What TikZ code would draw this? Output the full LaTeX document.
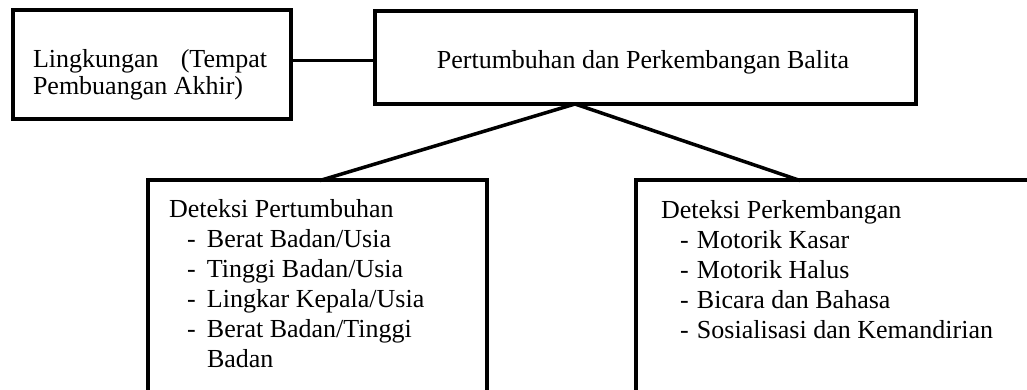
\documentclass[tikz,border=0pt]{standalone}
\usepackage{fontspec}
\setmainfont{Liberation Serif}
\newcommand{\itemL}[1]{\makebox[38pt][l]{\hspace*{18pt}-}#1}
\newcommand{\itemR}[1]{\makebox[36pt][l]{\hspace*{19pt}-}#1}
\begin{document}
\begin{tikzpicture}[x=1pt,y=-1pt,
  box/.style={draw, line width=4pt, rectangle, inner sep=0pt, outer sep=0pt},
  link/.style={line width=3.5pt},
  txt/.style={inner sep=0pt, outer sep=0pt, font=\fontsize{26}{30}\selectfont}]
\useasboundingbox (0,0) rectangle (1027,390);
\clip (0,0) rectangle (1027,390);
% boxes
\node[box, minimum width=278.5pt, minimum height=109pt] (env) at (151.75,65) {};
\node[box, minimum width=540.5pt, minimum height=93pt] (main) at (645.25,57.5) {};
\node[box, minimum width=339.5pt, minimum height=229.5pt] (grow) at (317.25,295.25) {};
\node[box, minimum width=414pt, minimum height=229.5pt] (dev) at (843,295.25) {};
% texts
\node[txt, anchor=base west, font=\fontsize{26}{27.5}\selectfont] (envt) at (33,67.5)
  {\parbox[t]{240pt}{\makebox[234pt][s]{Lingkungan\hfill(Tempat}\\Pembuangan Akhir)}};
\node[txt, anchor=base] (maint) at (643,68.3) {Pertumbuhan dan Perkembangan Balita};
\node[txt, anchor=base west] (growt) at (169,217)
  {\parbox[t]{310pt}{Deteksi Pertumbuhan\\
   \itemL{Berat Badan/Usia}\\
   \itemL{Tinggi Badan/Usia}\\
   \itemL{Lingkar Kepala/Usia}\\
   \itemL{Berat Badan/Tinggi}\\
   \hspace*{38pt}Badan}};
\node[txt, anchor=base west] (devt) at (661,218)
  {\parbox[t]{360pt}{Deteksi Perkembangan\\
   \itemR{Motorik Kasar}\\
   \itemR{Motorik Halus}\\
   \itemR{Bicara dan Bahasa}\\
   \itemR{Sosialisasi dan Kemandirian}}};
% connectors
\coordinate (ylink) at (0,60.5);
\coordinate (apex) at (575,104);
\coordinate (growtop) at (320,180.5);
\coordinate (devtop) at (800,180.5);
\draw[link] (env.east |- ylink) -- (main.west |- ylink);
\draw[link, line cap=round] (growtop) -- (apex) -- (devtop);
\end{tikzpicture}
\end{document}
